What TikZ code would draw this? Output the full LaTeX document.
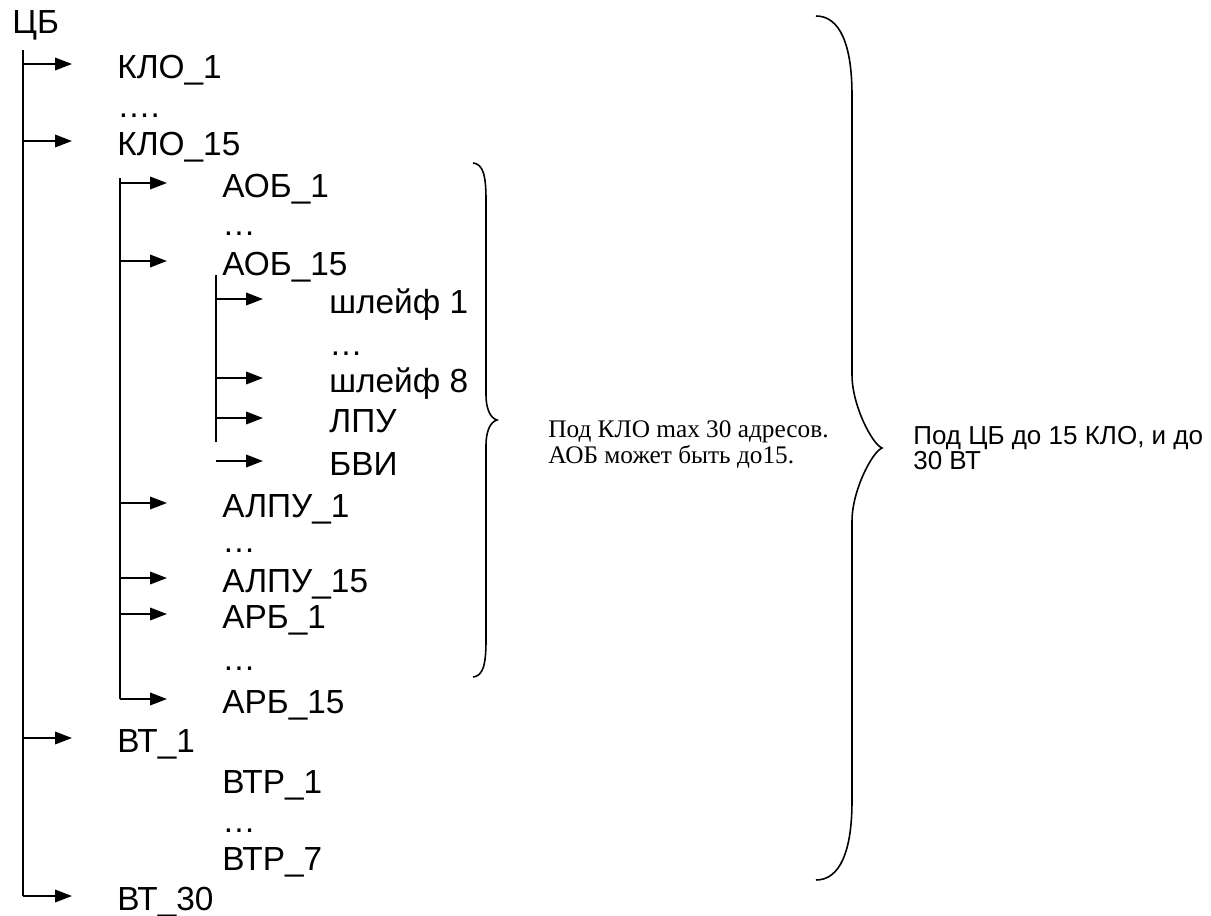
\documentclass[tikz,border=0pt]{standalone}
\usepackage{fontspec}
\setmainfont{Liberation Sans}
\newfontfamily\notefont{Liberation Serif}
\usetikzlibrary{positioning, arrows.meta}

\begin{document}
\begin{tikzpicture}[
    x=0.02cm, y=-0.02cm,
    item/.style={anchor=base west, inner sep=0pt, text height=0.56cm, text depth=0pt},
    bar/.style={line width=1.1pt},
    arr/.style={-{Triangle[length=0.34cm, width=0.25cm]}, line width=1.1pt},
    brace/.style={line width=0.9pt},
    note/.style={anchor=west, align=left, inner sep=0pt},
    every node/.style={font=\fontsize{19}{22}\selectfont}
]
\useasboundingbox (0,0) rectangle (1211,916);

% Root and first level
\node[item] (cb) at (12,33) {ЦБ};
\node[item] (klo1) at (117,78) {КЛО\_1};
\node[item] (dotsklo) at (117,117) {….};
\node[item] (klo15) at (117,155) {КЛО\_15};

% Under KLO_15
\node[item] (aob1) at (222,197) {АОБ\_1};
\node[item] (dotsaob) at (222,235) {…};
\node[item] (aob15) at (222,275) {АОБ\_15};
\node[item] (shl1) at (329,313) {шлейф 1};
\node[item] (dotsshl) at (329,355) {…};
\node[item] (shl8) at (329,392) {шлейф 8};
\node[item] (lpu) at (329,432) {ЛПУ};
\node[item] (bvi) at (329,475) {БВИ};
\node[item] (alpu1) at (222,517) {АЛПУ\_1};
\node[item] (dotsalpu) at (222,552) {…};
\node[item] (alpu15) at (222,592) {АЛПУ\_15};
\node[item] (arb1) at (222,628) {АРБ\_1};
\node[item] (dotsarb) at (222,670) {…};
\node[item] (arb15) at (222,713) {АРБ\_15};

% VT branch
\node[item] (vt1) at (117,752) {ВТ\_1};
\node[item] (vtr1) at (222,793) {ВТР\_1};
\node[item] (dotsvtr) at (222,832) {…};
\node[item] (vtr7) at (222,870) {ВТР\_7};
\node[item] (vt30) at (117,910) {ВТ\_30};

% Bars
\coordinate (bar1) at (23,50);
\coordinate (bar2) at (120,178);
\coordinate (bar3) at (216,275);
\draw[bar] (bar1) -- (bar1 |- vt30.west);
\draw[bar] (bar2) -- (bar2 |- arb15.west);
\draw[bar] (bar3) -- ++(0,167);

\draw[arr, shorten >=0.9cm] (bar1 |- klo1.west) -- (klo1.west);
\draw[arr, shorten >=0.9cm] (bar1 |- klo15.west) -- (klo15.west);
\draw[arr, shorten >=0.9cm] (bar1 |- vt1.west) -- (vt1.west);
\draw[arr, shorten >=0.9cm] (bar1 |- vt30.west) -- (vt30.west);

\draw[arr, shorten >=1.1cm] (bar2 |- aob1.west) -- (aob1.west);
\draw[arr, shorten >=1.1cm] (bar2 |- aob15.west) -- (aob15.west);
\draw[arr, shorten >=1.1cm] (bar2 |- alpu1.west) -- (alpu1.west);
\draw[arr, shorten >=1.1cm] (bar2 |- alpu15.west) -- (alpu15.west);
\draw[arr, shorten >=1.1cm] (bar2 |- arb1.west) -- (arb1.west);
\draw[arr, shorten >=1.1cm] (bar2 |- arb15.west) -- (arb15.west);

\draw[arr, shorten >=1.32cm] (bar3 |- shl1.west) -- (shl1.west);
\draw[arr, shorten >=1.32cm] (bar3 |- shl8.west) -- (shl8.west);
\draw[arr, shorten >=1.32cm] (bar3 |- lpu.west) -- (lpu.west);
\draw[arr, shorten >=1.32cm] (bar3 |- bvi.west) -- (bvi.west);

% Braces
\coordinate (tip1) at (497,420);
\coordinate (tip2) at (882,448);
\draw[brace] (473,163) .. controls (483,164) and (486,175) .. (486,200) -- (486,395)
    .. controls (486,408) and (490,418) .. (tip1)
    .. controls (490,422) and (486,432) .. (486,445) -- (486,640)
    .. controls (486,665) and (483,676) .. (473,677);
\draw[brace] (816,16) .. controls (840,16) and (852,45) .. (852,95) -- (852,375)
    .. controls (852,405) and (872,444) .. (tip2)
    .. controls (872,452) and (852,491) .. (852,521) -- (852,801)
    .. controls (852,851) and (840,880) .. (816,880);

% Notes
\node[note, font=\notefont\fontsize{14.4}{14.7}\selectfont, right=1.02cm of tip1, anchor=north west] (kloNote)
    {Под КЛО max 30 адресов.\\АОБ может быть до15.};
\node[note, font=\fontsize{14.8}{12.5}\selectfont, right=0.62cm of tip2] (cbNote)
    {Под ЦБ до 15 КЛО, и до\\30 ВТ};

\end{tikzpicture}
\end{document}
